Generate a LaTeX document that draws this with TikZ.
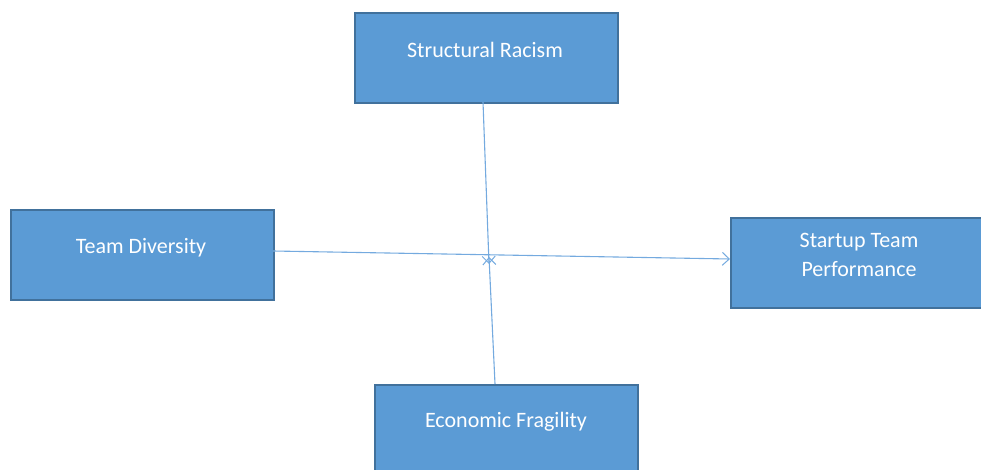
\documentclass[tikz,border=0pt]{standalone}
\usepackage{fontspec}
\setmainfont{Carlito}
\usetikzlibrary{arrows.meta}
\definecolor{boxfill}{HTML}{5B9BD5}
\definecolor{boxline}{HTML}{41719C}
\definecolor{conn}{HTML}{74AADF}
\begin{document}
\begin{tikzpicture}[x=1pt,y=1pt,
  box/.style={draw=boxline,line width=1.6pt,fill=boxfill,minimum width=263pt,minimum height=90pt,inner sep=0pt,anchor=north west},
  lbl/.style={text=white,font=\fontsize{22}{27}\selectfont,align=center,inner sep=0pt},
  conn/.style={draw=conn,line width=1.1pt,-{Straight Barb[length=7pt,width=13pt,line width=1pt]}}]
\useasboundingbox (0,0) rectangle (981,-470);
\clip (0,0) rectangle (981,-470);
\node[box] (sr) at (354,-12) {};
\node[box] (td) at (10,-209) {};
\node[box,minimum width=252pt] (sp) at (730,-217) {};
\node[box,minimum height=100pt] (ef) at (374,-384) {};
\node[lbl] (srt) at (485,-50) {Structural Racism};
\node[lbl] (tdt) at (141,-248) {Team Diversity};
\node[lbl] (spt) at (859,-255) {Startup Team\\[2pt]Performance};
\node[lbl] (eft) at (506,-422) {Economic Fragility};
\coordinate (sbot) at (483,-102);
\coordinate (etop) at (495,-384);
\coordinate (tdr) at (273,-251);
\coordinate (spl) at (730,-259);
\coordinate (mdn) at (489,-264);
\coordinate (mup) at (489,-257);
\draw[conn] (tdr) -- (spl);
\draw[conn] (sbot) -- (mdn);
\draw[conn] (etop) -- (mup);
\end{tikzpicture}
\end{document}
